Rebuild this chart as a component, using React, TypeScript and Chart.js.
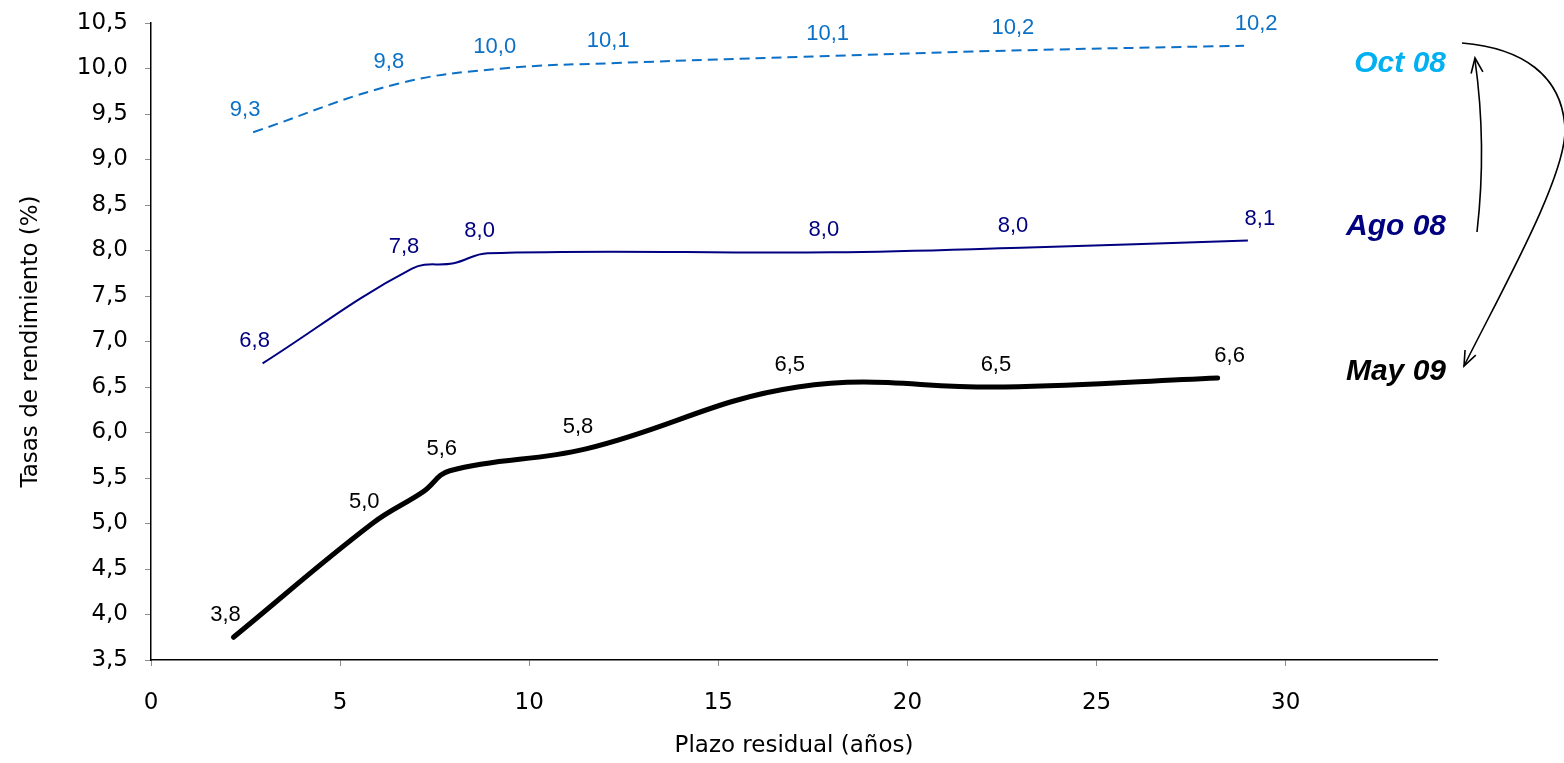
import React, { useEffect, useRef } from "react";
import { Chart, registerables } from "chart.js";

Chart.register(...registerables);

// ---- data ----
const octX = [2.7, 6.5, 9.3, 12.3, 18.1, 23.0, 28.9];
const octY = [9.3, 9.83, 10.0, 10.06, 10.14, 10.2, 10.25];
const octLabels = ["9,3", "9,8", "10,0", "10,1", "10,1", "10,2", "10,2"];

const agoX = [2.95, 6.9, 8.0, 8.9, 18.0, 23.0, 29.0];
const agoY = [6.76, 7.8, 7.86, 7.97, 7.98, 8.03, 8.11];
const agoLabels = ["6,8", "7,8", "", "8,0", "8,0", "8,0", "8,1"];

const mayX = [2.18, 5.85, 7.2, 7.9, 11.5, 17.1, 22.55, 28.2];
const mayY = [3.75, 5.0, 5.35, 5.58, 5.82, 6.5, 6.5, 6.6];
const mayLabels = ["3,8", "5,0", "", "5,6", "5,8", "6,5", "6,5", "6,6"];

const seriesNames = ["Oct 08", "Ago 08", "May 09"];
const xTitle = "Plazo residual (años)";
const yTitle = "Tasas de rendimiento (%)";
const yMin = 3.5;
const yMax = 10.5;
const yStep = 0.5;
const xMin = 0;
const xMax = 34;
const xStep = 5;

// ---- styles ----
const OCT_COLOR = "#0B70C6";
const AGO_COLOR = "#000080";
const MAY_COLOR = "#000000";
const OCT_NAME_COLOR = "#00B0F0";
const AXIS_FONT = "'DejaVu Sans', sans-serif";
const LABEL_FONT = "'Liberation Sans', Arial, sans-serif";

const pts = (xs: number[], ys: number[]) => xs.map((x, i) => ({ x, y: ys[i] }));

const dataLabelPlugin = {
  id: "dataLabels",
  afterDatasetsDraw(chart: any) {
    const ctx = chart.ctx;
    ctx.save();
    chart.data.datasets.forEach((ds: any, i: number) => {
      const meta = chart.getDatasetMeta(i);
      const labels: string[] = ds.pointLabels || [];
      ctx.font = `22px ${LABEL_FONT}`;
      ctx.fillStyle = ds.labelColor;
      ctx.textAlign = "center";
      ctx.textBaseline = "middle";
      meta.data.forEach((el: any, j: number) => {
        const t = labels[j];
        if (!t) return;
        const last = j === meta.data.length - 1;
        ctx.fillText(t, el.x + (last ? 12 : -8), el.y - 22);
      });
    });
    ctx.restore();
  },
};

function arrowHead(ctx: CanvasRenderingContext2D, tipX: number, tipY: number, fromX: number, fromY: number) {
  const ang = Math.atan2(tipY - fromY, tipX - fromX);
  const len = 16;
  const spread = 0.38;
  ctx.beginPath();
  ctx.moveTo(tipX - len * Math.cos(ang - spread), tipY - len * Math.sin(ang - spread));
  ctx.lineTo(tipX, tipY);
  ctx.lineTo(tipX - len * Math.cos(ang + spread), tipY - len * Math.sin(ang + spread));
  ctx.stroke();
}

const namesPlugin = {
  id: "seriesNames",
  afterDraw(chart: any) {
    const ctx = chart.ctx as CanvasRenderingContext2D;
    const a = chart.chartArea;
    const rx = a.right + 9;
    ctx.save();
    ctx.font = `italic bold 30px ${LABEL_FONT}`;
    ctx.textAlign = "right";
    ctx.textBaseline = "alphabetic";
    ctx.fillStyle = OCT_NAME_COLOR;
    ctx.fillText(seriesNames[0], rx, 72);
    ctx.fillStyle = AGO_COLOR;
    ctx.fillText(seriesNames[1], rx, 235);
    ctx.fillStyle = MAY_COLOR;
    ctx.fillText(seriesNames[2], rx, 380);

    // arrows
    ctx.strokeStyle = "#000";
    ctx.lineWidth = 1.6;
    // Ago -> Oct
    ctx.beginPath();
    ctx.moveTo(a.right + 40, 232);
    ctx.quadraticCurveTo(a.right + 50, 145, a.right + 38, 60);
    ctx.stroke();
    arrowHead(ctx, a.right + 38, 58, a.right + 41, 80);
    // Oct -> May
    ctx.beginPath();
    ctx.moveTo(a.right + 25, 43);
    ctx.bezierCurveTo(a.right + 85, 48, a.right + 125, 75, a.right + 128, 128);
    ctx.bezierCurveTo(a.right + 130, 175, a.right + 65, 290, a.right + 27, 366);
    ctx.stroke();
    arrowHead(ctx, a.right + 27, 366, a.right + 38, 343);
    ctx.restore();
  },
};

export default function App() {
  const ref = useRef<HTMLCanvasElement | null>(null);

  useEffect(() => {
    if (!ref.current) return;
    const chart = new Chart(ref.current, {
      type: "line",
      data: {
        datasets: [
          {
            label: seriesNames[0],
            data: pts(octX, octY),
            borderColor: OCT_COLOR,
            borderWidth: 2,
            borderDash: [10, 6],
            pointRadius: 0,
            tension: 0.4,
            fill: false,
            pointLabels: octLabels,
            labelColor: OCT_COLOR,
          } as any,
          {
            label: seriesNames[1],
            data: pts(agoX, agoY),
            borderColor: AGO_COLOR,
            borderWidth: 2,
            pointRadius: 0,
            tension: 0.4,
            fill: false,
            pointLabels: agoLabels,
            labelColor: AGO_COLOR,
          } as any,
          {
            label: seriesNames[2],
            data: pts(mayX, mayY),
            borderColor: MAY_COLOR,
            borderWidth: 5,
            borderCapStyle: "round",
            pointRadius: 0,
            tension: 0.4,
            fill: false,
            pointLabels: mayLabels,
            labelColor: MAY_COLOR,
          } as any,
        ],
      },
      options: {
        responsive: false,
        animation: false,
        devicePixelRatio: 1,
        layout: { padding: { left: 0, right: 127, top: 23, bottom: 0 } },
        plugins: { legend: { display: false }, tooltip: { enabled: false } },
        scales: {
          x: {
            type: "linear",
            min: xMin,
            max: xMax,
            afterFit: (s: any) => {
              s.height = 103;
              s.paddingLeft = 0;
              s.paddingRight = 0;
            },
            ticks: {
              stepSize: xStep,
              includeBounds: false,
              color: "#000",
              font: { family: AXIS_FONT, size: 23 },
              padding: 23,
              maxRotation: 0,
              autoSkip: false,
            },
            grid: { drawOnChartArea: false, drawTicks: true, tickLength: 6, color: "#8c8c8c" },
            border: { display: true, color: "#000", width: 1.5 },
            title: {
              display: true,
              text: xTitle,
              color: "#000",
              font: { family: AXIS_FONT, size: 23 },
              padding: { top: 0, bottom: 3 },
            },
          },
          y: {
            type: "linear",
            min: yMin,
            max: yMax,
            afterFit: (s: any) => {
              s.width = 151;
              s.paddingTop = 0;
              s.paddingBottom = 0;
            },
            ticks: {
              stepSize: yStep,
              color: "#000",
              font: { family: AXIS_FONT, size: 23 },
              padding: 17,
              callback: (v: any) => Number(v).toFixed(1).replace(".", ","),
            },
            grid: { drawOnChartArea: false, drawTicks: true, tickLength: 6, color: "#8c8c8c" },
            border: { display: true, color: "#000", width: 1.5 },
            title: {
              display: true,
              text: yTitle,
              color: "#000",
              font: { family: AXIS_FONT, size: 23 },
              padding: { top: 17, bottom: 0 },
            },
          },
        },
      },
      plugins: [dataLabelPlugin, namesPlugin],
    });
    return () => chart.destroy();
  }, []);

  return (
    <div style={{ position: "fixed", left: 0, top: 0, width: 1564, height: 763, background: "#fff" }}>
      <canvas ref={ref} width={1564} height={763} style={{ width: 1564, height: 763, display: "block" }} />
    </div>
  );
}
